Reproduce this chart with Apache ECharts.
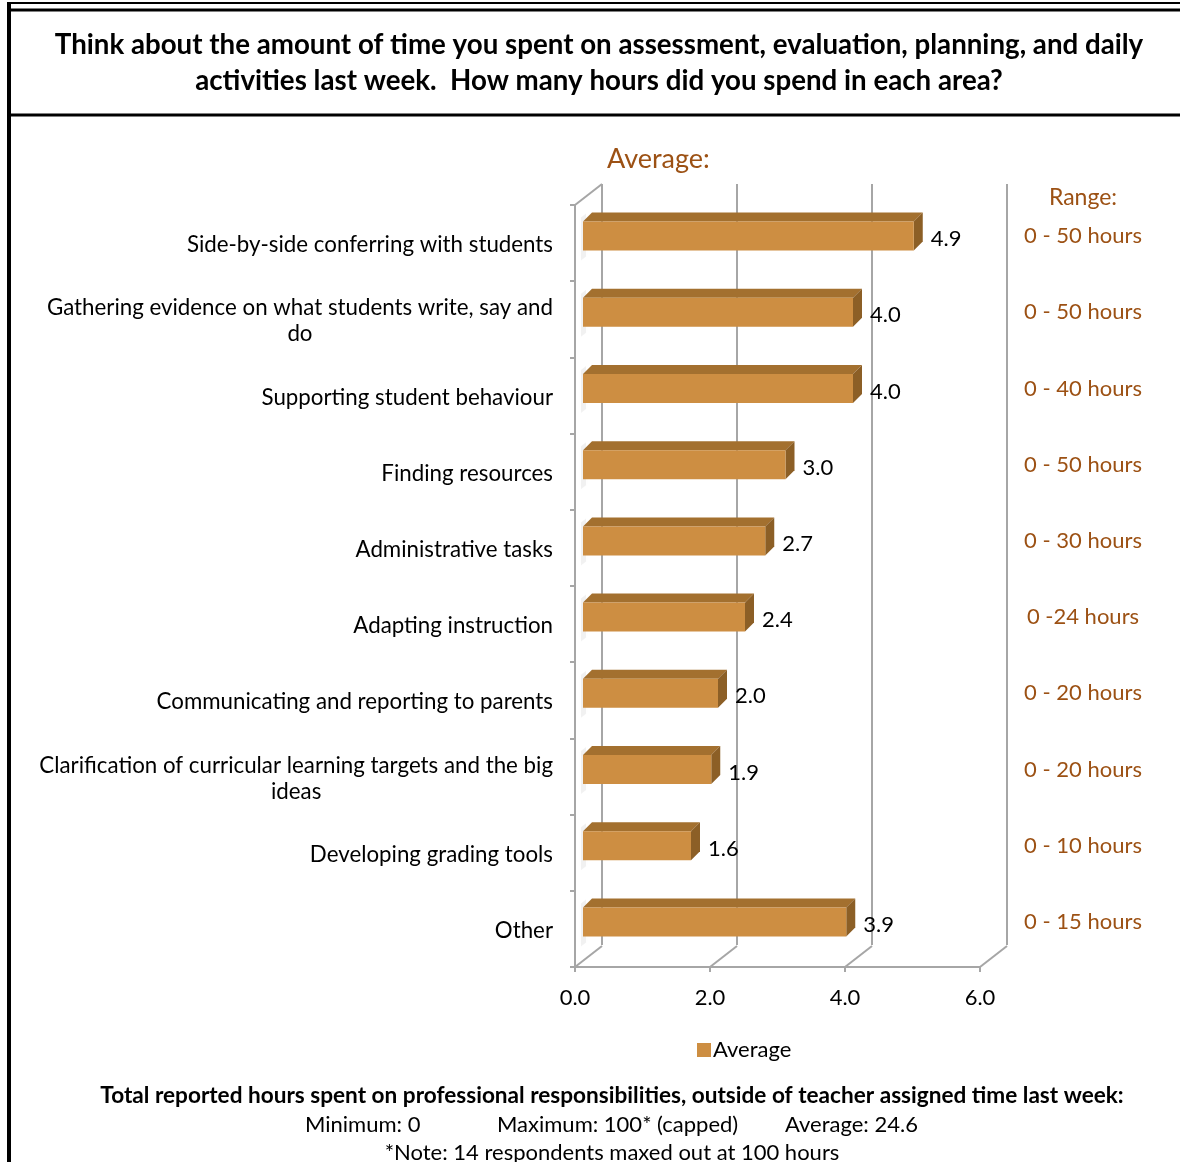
<!DOCTYPE html>
<html>
<head>
<meta charset="utf-8">
<script src="https://cdn.jsdelivr.net/npm/echarts@6/dist/echarts.min.js"></script>
<style>
  html, body { margin: 0; padding: 0; background: #ffffff; }
  #chart { width: 1180px; height: 1162px; }
</style>
</head>
<body>
<div id="chart"></div>
<script>
// Survey categories (top to bottom)
const categories = [
  'Side-by-side conferring with students',
  'Gathering evidence on what students write, say and\ndo',
  'Supporting student behaviour',
  'Finding resources',
  'Administrative tasks',
  'Adapting instruction',
  'Communicating and reporting to parents',
  'Clarification of curricular learning targets and the big\nideas',
  'Developing grading tools',
  'Other'
];
// Average hours per week
const averages = [4.9, 4.0, 4.0, 3.0, 2.7, 2.4, 2.0, 1.9, 1.6, 3.9];
// Reported range for each activity
const ranges = [
  '0 - 50 hours', '0 - 50 hours', '0 - 40 hours', '0 - 50 hours', '0 - 30 hours',
  '0 -24 hours', '0 - 20 hours', '0 - 20 hours', '0 - 10 hours', '0 - 15 hours'
];
// Value axis ticks
const xTicks = [0, 2, 4, 6];

const FONT = 'Lato, "Open Sans", sans-serif';
const BROWN = '#9c5114';
const GRID_COLOR = '#a6a6a6';
const FRONT = '#cd8e42';
const TOP = '#a3702f';
const SIDE = '#8c5f26';
// depth of the 3D box walls
const WALL_DX = 27, WALL_DY = -21;

const chart = echarts.init(document.getElementById('chart'), null, { renderer: 'canvas' });

function renderBar(params, api) {
  const v = api.value(0);
  const i = api.value(1);
  const p0 = api.coord([0, i]);
  const p1 = api.coord([v, i]);
  const band = api.size([0, 1])[1];
  const h = band * 0.38;
  const ox = 8, oy = -7, dx = 9, dy = -9;
  const x0 = p0[0] + ox, x1 = p1[0] + ox;
  const yc = p0[1] + oy;
  const yt = yc - h / 2, yb = yc + h / 2;
  return {
    type: 'group',
    children: [
      {
        type: 'polygon',
        shape: { points: [[x0 - 2, yt - 4], [x0 + 3, yt - 8], [x0 + 3, yb + 6], [x0 - 2, yb + 10]] },
        style: { fill: 'rgba(0,0,0,0.05)', shadowBlur: 7, shadowColor: 'rgba(0,0,0,0.3)' },
        silent: true
      },
      {
        type: 'polygon',
        shape: { points: [[x0, yt], [x1, yt], [x1 + dx, yt + dy], [x0 + dx, yt + dy]] },
        style: { fill: TOP }
      },
      {
        type: 'polygon',
        shape: { points: [[x1, yt], [x1 + dx, yt + dy], [x1 + dx, yb + dy], [x1, yb]] },
        style: { fill: SIDE }
      },
      {
        type: 'rect',
        shape: { x: x0, y: yt, width: x1 - x0, height: h },
        style: { fill: FRONT }
      },
      {
        type: 'text',
        style: {
          text: v.toFixed(1), x: x1 + dx + 8, y: yc + 3,
          verticalAlign: 'middle', align: 'left',
          font: '22px ' + FONT, fill: '#000000'
        }
      }
    ]
  };
}

function renderFrame(params, api) {
  const v = api.value(0);
  const cs = params.coordSys;
  const p = api.coord([v, 0]);
  const bottom = cs.y + cs.height;
  const lineStyle = { stroke: GRID_COLOR, lineWidth: 2 };
  const children = [
    { type: 'line', shape: { x1: p[0], y1: bottom, x2: p[0] + WALL_DX, y2: bottom + WALL_DY }, style: lineStyle }
  ];
  if (v === 0) {
    children.push({ type: 'line', shape: { x1: p[0], y1: cs.y, x2: p[0] + WALL_DX, y2: cs.y + WALL_DY }, style: lineStyle });
  }
  return { type: 'group', children: children };
}

function renderRange(params, api) {
  const i = api.value(1);
  const cs = params.coordSys;
  const p = api.coord([0, i]);
  return {
    type: 'text',
    style: {
      text: ranges[i], x: cs.x + cs.width + 103, y: p[1] - 7,
      align: 'center', verticalAlign: 'middle',
      font: '22px ' + FONT, fill: BROWN
    }
  };
}

const option = {
  animation: false,
  backgroundColor: '#ffffff',
  title: [
    {
      text: 'Think about the amount of time you spent on assessment, evaluation, planning, and daily\nactivities last week.  How many hours did you spend in each area?',
      left: 599, top: 27, textAlign: 'center', padding: 0,
      textStyle: { fontFamily: FONT, fontSize: 27.7, fontWeight: 'bold', color: '#000', lineHeight: 36 }
    },
    {
      text: 'Average:',
      left: 607, top: 146, padding: 0,
      textStyle: { fontFamily: FONT, fontSize: 27, fontWeight: 'normal', color: BROWN }
    },
    {
      text: 'Range:',
      left: 1083, top: 186, textAlign: 'center', padding: 0,
      textStyle: { fontFamily: FONT, fontSize: 23, fontWeight: 'normal', color: BROWN }
    }
  ],
  legend: {
    data: [{ name: 'Average', icon: 'rect' }],
    left: 692, top: 1034,
    itemWidth: 14, itemHeight: 14, itemGap: 5,
    textStyle: { fontFamily: FONT, fontSize: 22, color: '#000', padding: [0, 0, 0, -3] }
  },
  grid: [
    { left: 575, top: 205, width: 405, height: 762, containLabel: false },
    { left: 602, top: 184, width: 405, height: 761, containLabel: false }
  ],
  xAxis: [
    {
      gridIndex: 0, type: 'value', min: 0, max: 6, interval: 2,
      axisLine: { show: true, lineStyle: { color: GRID_COLOR, width: 2 } },
      axisTick: { show: true, length: 5, lineStyle: { color: GRID_COLOR, width: 2 } },
      splitLine: { show: false },
      axisLabel: {
        fontFamily: FONT, fontSize: 22, color: '#000', margin: 20,
        formatter: v => Number(v).toFixed(1)
      }
    },
    {
      gridIndex: 1, type: 'value', min: 0, max: 6, interval: 2,
      axisLine: { show: false }, axisTick: { show: false }, axisLabel: { show: false },
      splitLine: { show: true, lineStyle: { color: GRID_COLOR, width: 2 } }
    }
  ],
  yAxis: [
    {
      gridIndex: 0, type: 'category', data: categories, inverse: true,
      axisLine: { show: true, lineStyle: { color: GRID_COLOR, width: 2 } },
      axisTick: { show: true, length: 5, lineStyle: { color: GRID_COLOR, width: 2 } },
      axisLabel: {
        margin: 22, fontFamily: FONT, fontSize: 22.3, color: '#000', lineHeight: 26,
        padding: [4, 0, 0, 0],
        formatter: v => v.split('\n').map(s => '{c|' + s + '}').join('\n'),
        rich: { c: { align: 'center', fontFamily: FONT, fontSize: 22.3, color: '#000', lineHeight: 26 } }
      }
    },
    {
      gridIndex: 1, type: 'category', data: categories, inverse: true,
      axisLine: { show: false }, axisTick: { show: false }, axisLabel: { show: false }
    }
  ],
  series: [
    {
      type: 'custom', name: 'frame', xAxisIndex: 0, yAxisIndex: 0,
      renderItem: renderFrame, silent: true, z: 1,
      data: xTicks.map(t => [t, 0])
    },
    {
      type: 'custom', name: 'range', xAxisIndex: 0, yAxisIndex: 0,
      renderItem: renderRange, silent: true, z: 2,
      data: ranges.map((r, i) => [0, i])
    },
    {
      type: 'custom', name: 'Average', xAxisIndex: 0, yAxisIndex: 0,
      renderItem: renderBar, z: 5,
      itemStyle: { color: FRONT },
      encode: { x: 0, y: 1 },
      data: averages.map((v, i) => [v, i])
    }
  ],
  graphic: [
    // outer frame and title separator
    { type: 'line', shape: { x1: 9, y1: 3, x2: 1180, y2: 3 }, style: { stroke: '#000', lineWidth: 2 } },
    { type: 'line', shape: { x1: 9, y1: 10, x2: 1180, y2: 10 }, style: { stroke: '#000', lineWidth: 3 } },
    { type: 'line', shape: { x1: 9, y1: 2, x2: 9, y2: 1162 }, style: { stroke: '#000', lineWidth: 4 } },
    { type: 'line', shape: { x1: 9, y1: 115, x2: 1180, y2: 115 }, style: { stroke: '#000', lineWidth: 3 } },
    // summary below the chart
    { type: 'text', x: 612, y: 1096, style: { text: 'Total reported hours spent on professional responsibilities, outside of teacher assigned time last week:', font: 'bold 22.6px ' + FONT, fill: '#000', align: 'center', verticalAlign: 'middle' } },
    { type: 'text', x: 305, y: 1125, style: { text: 'Minimum: 0', font: '22px ' + FONT, fill: '#000', verticalAlign: 'middle' } },
    { type: 'text', x: 497, y: 1125, style: { text: 'Maximum: 100* (capped)', font: '22px ' + FONT, fill: '#000', verticalAlign: 'middle' } },
    { type: 'text', x: 785, y: 1125, style: { text: 'Average: 24.6', font: '22px ' + FONT, fill: '#000', verticalAlign: 'middle' } },
    { type: 'text', x: 612, y: 1153, style: { text: '*Note: 14 respondents maxed out at 100 hours', font: '22px ' + FONT, fill: '#000', align: 'center', verticalAlign: 'middle' } }
  ]
};

chart.setOption(option);
</script>
</body>
</html>
